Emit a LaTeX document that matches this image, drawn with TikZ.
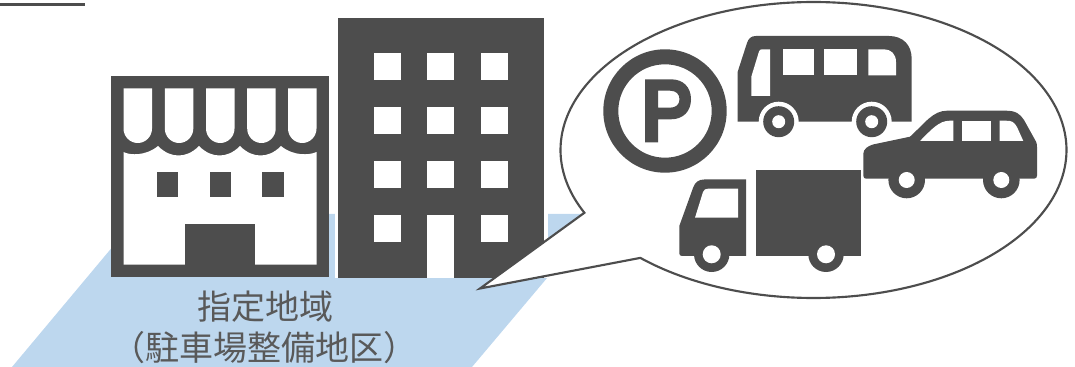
\documentclass[tikz,border=0pt]{standalone}
\usepackage{fontspec}
\newfontfamily\cjk{Noto Sans CJK JP}
\definecolor{dk}{HTML}{4D4D4D}
\definecolor{zone}{HTML}{BDD7EE}
\definecolor{txt}{HTML}{595959}
\tikzset{
  label/.style={font=\cjk\fontsize{25.5pt}{30pt}\selectfont,text=txt,inner sep=0pt,anchor=center},
  bubble/.style={fill=white,draw=dk,line width=1.6pt,miter limit=10,line join=miter},
}
\begin{document}
\begin{tikzpicture}[x=0.75pt,y=-0.75pt]
\useasboundingbox (0,0) rectangle (1075,367);
% top rule
\fill[dk] (0,3) rectangle (85,6);
% zone
\fill[zone] (140,214) -- (601,214) -- (472,367) -- (12,367) -- cycle;
% shop
\fill[dk] (111,76) rectangle (329,277);
\foreach \a in {123.5,164.8,206,247.2,288}{
  \pgfmathsetmacro{\b}{\a+28.5}
  \pgfmathsetmacro{\m}{\a+14.25}
  \pgfmathsetmacro{\ca}{\a+6.4}
  \pgfmathsetmacro{\cb}{\a+22.1}
  \fill[white] (\a,88.5) -- (\b,88.5) -- (\b,128.5)
     .. controls (\b,136.5) and (\cb,143) .. (\m,143)
     .. controls (\ca,143) and (\a,136.5) .. (\a,128.5) -- cycle;
}
\fill[white] (123.5,152)
  .. controls (130,155.5) and (146,156) .. (158,146)
  .. controls (165,153) and (172,155.5) .. (178.5,155.5)
  .. controls (185,155.5) and (192,153) .. (199,146)
  .. controls (206,153) and (213,155.5) .. (219.5,155.5)
  .. controls (226,155.5) and (233,153) .. (240,146)
  .. controls (247,153) and (254,155.5) .. (260.5,155.5)
  .. controls (267,155.5) and (274,153) .. (281,146)
  .. controls (293,156) and (309,155.5) .. (316.5,152)
  -- (316.5,264.5) -- (123.5,264.5) -- cycle;
\fill[dk] (156.5,172) rectangle (177.5,197);
\fill[dk] (209.5,172) rectangle (230.5,197);
\fill[dk] (262.3,172) rectangle (283.5,197);
\fill[dk] (185,224) rectangle (255,265);
% office building
\fill[white] (335,10) rectangle (548,278);
\fill[dk] (338,18) rectangle (544,277.5);
\foreach \x in {373.5,427.3,481}{
  \foreach \y in {53.5,107.3,161.3,215.3}{
    \fill[white] (\x,\y) rectangle ++(27,27);
  }
}
\fill[white] (427.3,215.3) rectangle (454.3,277.5);
% speech bubble
\coordinate (tip) at (480,288.5);
\draw[bubble] (tip) -- plot[domain=154.9:493.2,samples=240,smooth] ({813.5+253*cos(\x)},{150+148*sin(\x)}) -- cycle;
% parking sign
\fill[dk,even odd rule] (665,111) circle[radius=61.7] (665,111) circle[radius=46.7];
\fill[dk,even odd rule] (645,79.3) -- (671,79.3) .. controls (683,79.3) and (691,87) .. (691,99.3)
   .. controls (691,111.5) and (683,119.3) .. (671,119.3) -- (658,119.3) -- (658,142.3) -- (645,142.3) -- cycle
   (658,90.7) -- (670,90.7) .. controls (676,90.7) and (679.5,94) .. (679.5,99.2)
   .. controls (679.5,104.5) and (676,107.7) .. (670,107.7) -- (658,107.7) -- cycle;
% bus
\fill[dk] (737.7,121.7) -- (737.7,71.7) -- (747,43) .. controls (748.5,38.5) and (751,36) .. (756,36)
   -- (889,36) .. controls (903,36) and (911.7,45) .. (911.7,59) -- (911.7,121.7) -- cycle;
\fill[white] (751.3,76.7) -- (759,51.5) .. controls (759.5,50) and (760.5,49.3) .. (762,49.3) -- (770,49.3) -- (770,96) -- (751.3,96) -- cycle;
\fill[white] (782.7,49.3) rectangle (814,75.3);
\fill[white] (824.3,49.3) rectangle (856.7,75.3);
\fill[white] (868.3,49.3) -- (884,49.3) .. controls (891,49.3) and (896,54) .. (896,62) -- (896,75.3) -- (868.3,75.3) -- cycle;
\foreach \x in {778.7,871.7}{
  \fill[white] (\x,121.7) circle[radius=20];
  \fill[dk] (\x,121.7) circle[radius=15.5];
  \fill[white] (\x,121.7) circle[radius=6.5];
}
% car
\fill[dk] (866,178.7) .. controls (864.5,178.7) and (863.3,177.5) .. (863.3,175.5)
   -- (863.3,154) .. controls (863.3,149) and (868,146) .. (873,144.5)
   -- (910,136.7) .. controls (925,123) and (933,110.7) .. (947,110.7)
   -- (1006,110.7) .. controls (1016,110.7) and (1020,114) .. (1024,120)
   -- (1034,138) .. controls (1036,141) and (1037,143) .. (1037,147)
   -- (1037,175.5) .. controls (1037,177.5) and (1036,178.7) .. (1034,178.7) -- cycle;
\fill[white] (920,141) .. controls (932,129) and (939,120.7) .. (950,120.7) -- (953.3,120.7) -- (953.3,141) -- cycle;
\fill[white] (962,120.7) rectangle (991.3,141);
\fill[white] (999.7,120.7) -- (1006,120.7) .. controls (1012,120.7) and (1014,122) .. (1017,127) -- (1023.3,141) -- (999.7,141) -- cycle;
\foreach \x in {906.7,1001.3}{
  \fill[dk] (\x,180) circle[radius=18.3];
  \fill[white] (\x,180) circle[radius=8];
}
% truck
\fill[dk] (756,170) rectangle (861,256);
\fill[dk] (746,179.5) -- (704,179.5) .. controls (699,179.5) and (695,182) .. (693,188)
   -- (679.3,226) -- (679.3,253.5) .. controls (679.3,255) and (680.5,256) .. (682,256) -- (746,256) -- cycle;
\fill[white] (738,188.7) -- (738,217.7) -- (695,217.7) -- (703,192) .. controls (704,189.5) and (705.5,188.7) .. (708,188.7) -- cycle;
\foreach \x in {711.7,826}{
  \fill[dk] (\x,254.3) circle[radius=17.7];
  \fill[white] (\x,254.3) circle[radius=9];
}
% labels
\node[label] (zoneA) at (265,307) {指定地域};
\node[label] (zoneB) at (264,348) {（駐車場整備地区）};
\end{tikzpicture}
\end{document}
